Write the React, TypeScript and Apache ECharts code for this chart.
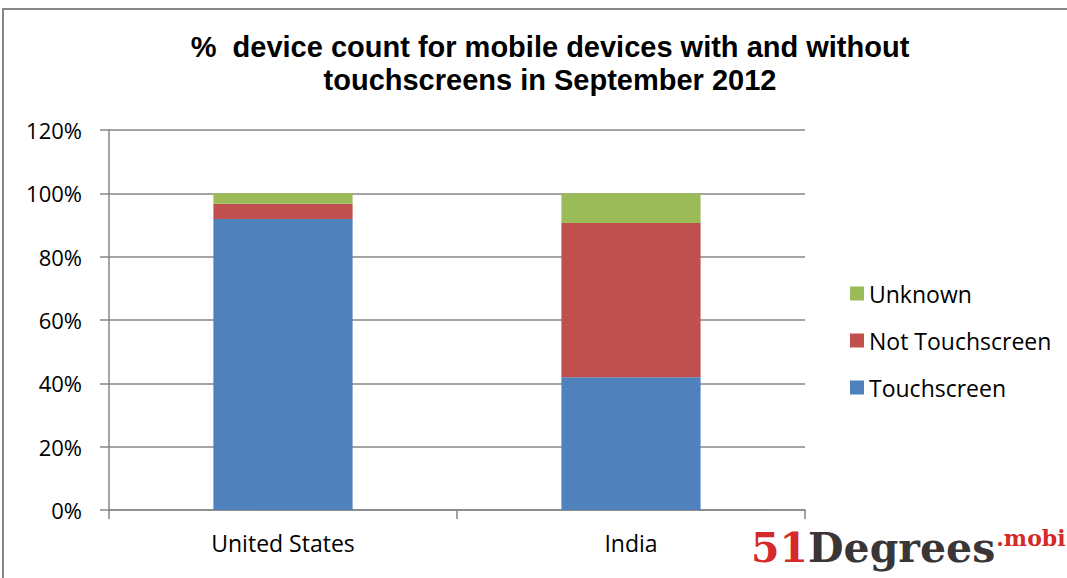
import React, { useEffect, useRef } from "react";
import * as echarts from "echarts";

const categories = ["United States", "India"];
const touchscreen = [91.9, 41.9];
const notTouchscreen = [4.8, 48.7];
const unknown = [3.3, 9.4];
const titleLines = ["%  device count for mobile devices with and without", "touchscreens in September 2012"];

export default function App() {
  const ref = useRef<HTMLDivElement>(null);
  useEffect(() => {
    const chart = echarts.init(ref.current!, null, { renderer: "svg" });
    const labelFont = "'Open Sans', 'Noto Sans', sans-serif";
    const barBase = { type: "bar", stack: "total", barWidth: "40%" };
    chart.setOption({
      animation: false,
      backgroundColor: "#ffffff",
      title: {
        text: titleLines.join("\n"),
        left: 545,
        top: 25,
        textAlign: "center",
        textStyle: {
          fontFamily: "'Liberation Sans', Arial, sans-serif",
          fontWeight: "bold",
          fontSize: 29,
          lineHeight: 33,
          color: "#000",
        },
      },
      grid: { left: 109, right: 262, top: 130, bottom: 68 },
      legend: {
        orient: "vertical",
        left: 845,
        top: 277,
        itemWidth: 14,
        itemHeight: 14,
        itemGap: 24,
        icon: "rect",
        data: ["Unknown", "Not Touchscreen", "Touchscreen"],
        textStyle: { fontFamily: labelFont, fontSize: 23, lineHeight: 23, color: "#000" },
      },
      xAxis: {
        type: "category",
        data: categories,
        axisLine: { lineStyle: { color: "#868686", width: 1.5 } },
        axisTick: { show: true, length: 9, lineStyle: { color: "#868686", width: 1.5 } },
        axisLabel: { fontFamily: labelFont, fontSize: 23, color: "#000", margin: 21 },
      },
      yAxis: {
        type: "value",
        min: 0,
        max: 120,
        interval: 20,
        axisLine: { show: true, lineStyle: { color: "#868686", width: 1.5 } },
        axisTick: { show: true, length: 9, lineStyle: { color: "#868686", width: 1.5 } },
        splitLine: { lineStyle: { color: "#868686", width: 1.5 } },
        axisLabel: { fontFamily: labelFont, fontSize: 22, color: "#000", margin: 27, formatter: "{value}%" },
      },
      series: [
        { ...barBase, name: "Touchscreen", data: touchscreen, itemStyle: { color: "#4f81bd" } },
        { ...barBase, name: "Not Touchscreen", data: notTouchscreen, itemStyle: { color: "#c0504d" } },
        { ...barBase, name: "Unknown", data: unknown, itemStyle: { color: "#9bbb59" } },
      ],
      graphic: [
        {
          type: "polyline",
          shape: { points: [[3, 600], [3, 9], [1070, 9]] },
          style: { stroke: "#868686", lineWidth: 2, fill: "none" },
          silent: true,
        },
        {
          type: "text",
          left: 751,
          top: 527,
          style: {
            text: "{a|51}{b|Degrees}{c|.mobi}",
            rich: {
              a: { fontFamily: "'DejaVu Serif', serif", fontWeight: "bold", fontSize: 41, fill: "#d42a2a" },
              b: { fontFamily: "'DejaVu Serif', serif", fontWeight: "bold", fontSize: 41, fill: "#3a3536" },
              c: { fontFamily: "'DejaVu Serif', serif", fontWeight: "bold", fontSize: 22, fill: "#d42a2a", verticalAlign: "top", padding: [0, 0, 18, 1] },
            },
          },
        },
      ],
    });
    return () => chart.dispose();
  }, []);
  return <div ref={ref} style={{ position: "absolute", left: 0, top: 0, width: 1067, height: 578 }} />;
}
